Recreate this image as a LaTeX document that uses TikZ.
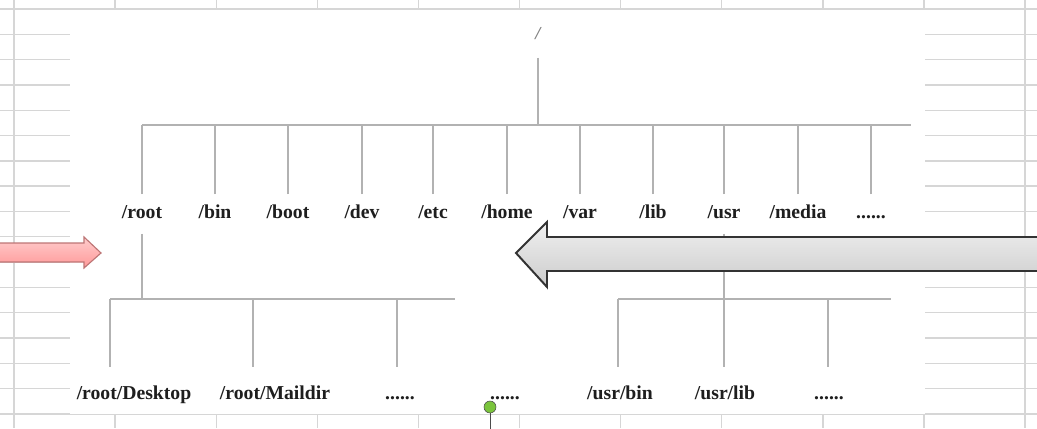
\documentclass[tikz,border=0pt]{standalone}
\usepackage{fontspec}
\setmainfont{Liberation Serif}
\definecolor{gridgray}{RGB}{214,214,214}
\definecolor{branchgray}{RGB}{178,178,178}
\definecolor{labelblack}{RGB}{30,30,30}
\definecolor{handlegreen}{RGB}{122,196,60}
\tikzset{
  dir/.style={font=\fontsize{14}{16}\selectfont\bfseries,text=labelblack,
    text height=10pt,text depth=3pt,inner xsep=0pt,inner ysep=7.5pt},
  subdir/.style={dir,inner ysep=13.4pt},
  rootdir/.style={font=\fontsize{13}{15}\selectfont\bfseries\itshape,text=gray,
    text height=8pt,text depth=2pt,inner ysep=11pt},
  branch/.style={draw=branchgray,line width=1.4pt},
  gridline/.style={draw=gridgray,line width=1pt},
  pinkarrow/.style={draw=red!35!gray!80,line width=0.8pt,top color=red!20,bottom color=red!40},
  grayarrow/.style={draw=black!80,line width=1.4pt,top color=gray!12,bottom color=gray!40},
  handle/.style={draw=gray!60!black,fill=handlegreen,circle,minimum size=0.3cm,inner sep=0pt}
}
\begin{document}
\begin{tikzpicture}[x=0.025cm,y=-0.025cm]
\useasboundingbox (0,0) rectangle (1037,428);
\clip (0,0) rectangle (1037,428);
% sheet behind the picture
\foreach \gy in {9,34.3,...,414} \draw[gridline] (0,\gy) -- (1037,\gy);
\foreach \gx in {14,115.1,...,1030} \draw[gridline] (\gx,0) -- (\gx,428);
\fill[white] (70,10) rectangle (925,414);

% first level
\node[rootdir] (Slash) at (538,35){/};
\node[dir] (Root) at (142,214){/root};
\node[dir] (Bin) at (215,214){/bin};
\node[dir] (Boot) at (288,214){/boot};
\node[dir] (Dev) at (362,214){/dev};
\node[dir] (Etc) at (433,214){/etc};
\node[dir] (Home) at (507,214){/home};
\node[dir] (Var) at (580,214){/var};
\node[dir] (Lib) at (653,214){/lib};
\node[dir] (Usr) at (724,214){/usr};
\node[dir] (Media) at (798,214){/media};
\node[dir] (More) at (871,214){......};
\coordinate (TopL) at (142,125);
\coordinate (TopR) at (911,125);
\draw[branch] (Slash.south) -- (Slash.south |- TopL);
\draw[branch] (TopL) -- (TopR);
\foreach \n in {Root,Bin,Boot,Dev,Etc,Home,Var,Lib,Usr,Media,More}
  \draw[branch] (\n.north) -- (\n.north |- TopL);

% second level under /root
\node[subdir] (RootDesktop) at (134,395){/root/Desktop};
\node[subdir] (RootMaildir) at (275,395){/root/Maildir};
\node[subdir] (RootMore) at (400,395){......};
\coordinate (RootL) at (110,299);
\coordinate (RootM) at (253,299);
\coordinate (RootR) at (397,299);
\coordinate (RootEnd) at (455,299);
\draw[branch] (Root.south) -- (Root.south |- RootL);
\draw[branch] (RootL) -- (RootEnd);
\draw[branch] (RootL) -- (RootL |- RootDesktop.north);
\draw[branch] (RootM) -- (RootM |- RootMaildir.north);
\draw[branch] (RootR) -- (RootR |- RootMore.north);

\node[subdir] (MidMore) at (505,395){......};

% second level under /usr
\node[subdir] (UsrBin) at (620,395){/usr/bin};
\node[subdir] (UsrLib) at (725,395){/usr/lib};
\node[subdir] (UsrMore) at (829,395){......};
\coordinate (UsrL) at (618,299);
\coordinate (UsrM) at (724,299);
\coordinate (UsrR) at (828,299);
\coordinate (UsrEnd) at (891,299);
\draw[branch] (Usr.south) -- (UsrM);
\draw[branch] (UsrL) -- (UsrEnd);
\draw[branch] (UsrL) -- (UsrL |- UsrBin.north);
\draw[branch] (UsrM) -- (UsrM |- UsrLib.north);
\draw[branch] (UsrR) -- (UsrR |- UsrMore.north);

% block arrows
\draw[pinkarrow] (-5,243) -- (84,243) -- (84,237) -- (101,253) -- (84,268) -- (84,262) -- (-5,262) -- cycle;
\draw[grayarrow] (1045,237) -- (547,237) -- (547,222) -- (516,253) -- (547,287) -- (547,271) -- (1045,271) -- cycle;

% handle
\node[handle] (Handle) at (490,407){};
\coordinate (HandleEnd) at (490,430);
\draw[black!70] (Handle.south) -- (HandleEnd);
\end{tikzpicture}
\end{document}
